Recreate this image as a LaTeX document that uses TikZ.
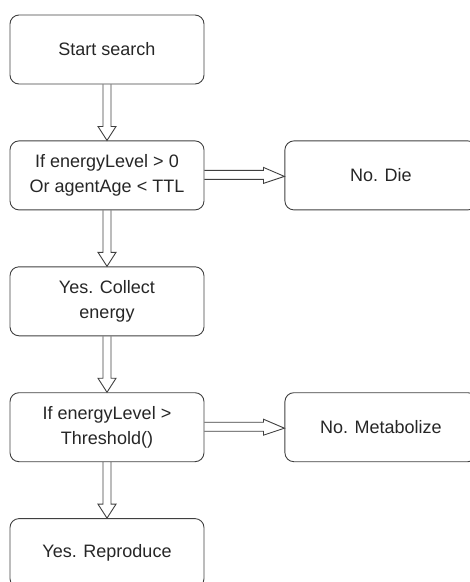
\documentclass[tikz,border=0pt]{standalone}
\usepackage{fontspec}
\setmainfont{Liberation Sans}
\usetikzlibrary{calc,positioning}

\begin{document}
\begin{tikzpicture}[x=1pt, y=1pt, node distance=56pt and 80pt,
    box/.style={draw=black!75, line width=0.9pt, rounded corners=9pt,
      minimum width=194pt, minimum height=69pt, align=center,
      font=\fontsize{18}{25}\selectfont, text=black!85},
    fat/.style={draw=black!75, line width=0.9pt, line join=miter}]
  \useasboundingbox (0,0) rectangle (470,-582);
  \node[box] (start) at (107,-49.5) {Start search};
  \node[box, below=of start] (alive) {If energyLevel > 0\\Or agentAge < TTL};
  \node[box, minimum width=192pt, right=of alive] (die) {No. Die};
  \node[box, below=of alive] (collect) {Yes. Collect\\energy};
  \node[box, below=of collect] (check) {If energyLevel >\\Threshold()};
  \node[box, minimum width=192pt, right=of check] (meta) {No. Metabolize};
  \node[box, below=of check] (repro) {Yes. Reproduce};
  % hollow arrows down
  \foreach \a/\b in {start/alive, alive/collect, collect/check, check/repro}
    \draw[fat] let \p1=(\a.south), \p2=(\b.north) in
      (\x1-4,\y1) -- (\x1-4,\y2+14) -- (\x1-9,\y2+14) -- (\x2,\y2)
      -- (\x1+9,\y2+14) -- (\x1+4,\y2+14) -- (\x1+4,\y1);
  % hollow arrows right
  \foreach \a/\b in {alive/die, check/meta}
    \draw[fat] let \p1=(\a.east), \p2=(\b.west) in
      (\x1,\y1+5) -- (\x2-21,\y1+5) -- (\x2-21,\y1+8) -- (\x2,\y2-1)
      -- (\x2-21,\y1-8) -- (\x2-21,\y1-4) -- (\x1,\y1-4);
\end{tikzpicture}
\end{document}
